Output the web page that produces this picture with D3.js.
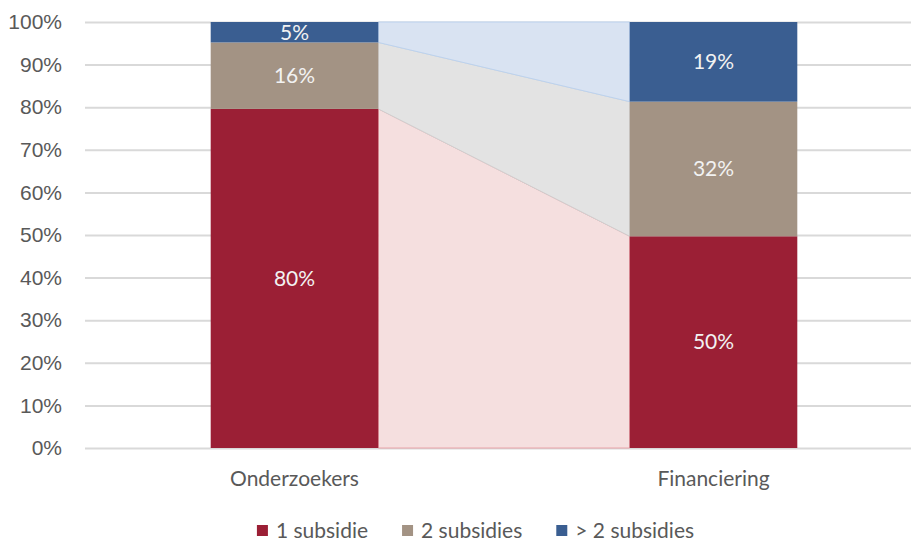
<!DOCTYPE html>
<html>
<head>
<meta charset="utf-8">
<script src="https://cdn.jsdelivr.net/npm/d3@7"></script>
<style>
    body { margin: 0; background: #fff; }
    svg { display: block; font-family: Lato, "Open Sans", sans-serif; }
    .tick-label, .cat-label, .legend-label { fill: #595959; font-size: 21px; }
    .value-label { fill: #f2f2f2; font-size: 21px; }
</style>
</head>
<body>
<svg id="chart" width="911" height="542"></svg>
<script>
// Data
const categories = ['Onderzoekers', 'Financiering'];
const seriesNames = ['1 subsidie', '2 subsidies', '> 2 subsidies'];
const seriesValues = [
    [79.6, 49.7],  // 1 subsidie
    [15.6, 31.6],  // 2 subsidies
    [4.8, 18.7],   // > 2 subsidies
];
const valueLabels = [
    ['80%', '50%'],
    ['16%', '32%'],
    ['5%', '19%'],
];
const yTicks = [0, 10, 20, 30, 40, 50, 60, 70, 80, 90, 100];

const barColours = ['#9b1f35', '#a39384', '#3a5e91'];
const linkColours = ['#f5dfdf', '#e3e3e3', '#d9e3f2'];
const linkStrokes = ['#e8a2a8', '#d0d0d0', '#bcd2ee'];

const svg = d3.select('#chart');
const margins = { left: 85, right: -12, top: 22, bottom: 94 };
const width = 911, height = 542;

const x = d3.scaleBand()
    .domain(categories)
    .range([margins.left, width - margins.right])
    .paddingInner(0.6)
    .paddingOuter(0.3);

const y = d3.scaleLinear()
    .domain([0, 100])
    .range([height - margins.bottom, margins.top]);

// Build table for stacking
const table = categories.map((c, i) => {
    const row = { category: c };
    seriesNames.forEach((s, j) => { row[s] = seriesValues[j][i]; });
    return row;
});
const stacked = d3.stack().keys(seriesNames)(table);

// Grid lines + y axis labels
const yAxis = d3.axisLeft(y)
    .tickValues(yTicks)
    .tickSize(-(width - margins.right - margins.left))
    .tickFormat(d => d + '%');

const yAxisG = svg.append('g')
    .attr('transform', `translate(${margins.left}, 0)`)
    .call(yAxis);
yAxisG.select('.domain').remove();
yAxisG.selectAll('.tick line')
    .attr('stroke', '#d9d9d9')
    .attr('stroke-width', 2);
yAxisG.selectAll('.tick text')
    .attr('class', 'tick-label')
    .attr('x', -23)
    .attr('font-size', null)
    .attr('font-family', null);

// Connector areas between bars
const linkX = [x(categories[0]) + x.bandwidth(), x(categories[1])];
const area = d3.area()
    .x((d, i) => linkX[i])
    .y0(d => y(d[0]))
    .y1(d => y(d[1]));

svg.append('g')
    .selectAll('path.link')
    .data(stacked)
    .join('path')
    .attr('class', 'link')
    .attr('d', d => area(d))
    .attr('fill', (d, i) => linkColours[i])
    .attr('stroke', (d, i) => linkStrokes[i])
    .attr('stroke-width', 1);

// Bars
const groups = svg.append('g')
    .selectAll('g.series')
    .data(stacked)
    .join('g')
    .attr('class', 'series')
    .attr('fill', (d, i) => barColours[i]);

groups.selectAll('rect')
    .data(d => d)
    .join('rect')
    .attr('x', d => x(d.data.category))
    .attr('y', d => y(d[1]))
    .attr('width', x.bandwidth())
    .attr('height', d => y(d[0]) - y(d[1]));

// Value labels
stacked.forEach((s, j) => {
    svg.append('g')
        .selectAll('text')
        .data(s)
        .join('text')
        .attr('class', 'value-label')
        .attr('x', d => x(d.data.category) + x.bandwidth() / 2)
        .attr('y', d => (y(d[0]) + y(d[1])) / 2)
        .attr('dy', '0.35em')
        .attr('text-anchor', 'middle')
        .text((d, i) => valueLabels[j][i]);
});

// Category labels
svg.append('g')
    .selectAll('text')
    .data(categories)
    .join('text')
    .attr('class', 'cat-label')
    .attr('x', d => x(d) + x.bandwidth() / 2)
    .attr('y', height - margins.bottom + 38)
    .attr('text-anchor', 'middle')
    .text(d => d);

// Legend
const legend = svg.append('g').attr('class', 'legend');
const items = legend.selectAll('g.legend-item')
    .data(seriesNames)
    .join('g')
    .attr('class', 'legend-item');
items.append('rect')
    .attr('x', 0)
    .attr('y', -13)
    .attr('width', 11)
    .attr('height', 11)
    .attr('fill', (d, i) => barColours[i]);
items.append('text')
    .attr('class', 'legend-label')
    .attr('x', 19)
    .text(d => d);

let offset = 0;
items.each(function() {
    const g = d3.select(this);
    g.attr('transform', `translate(${offset}, 0)`);
    offset += this.getBBox().width + 34;
});
const legendWidth = legend.node().getBBox().width;
legend.attr('transform', `translate(${(width - legendWidth) / 2 + 20}, 538)`);
</script>
</body>
</html>
